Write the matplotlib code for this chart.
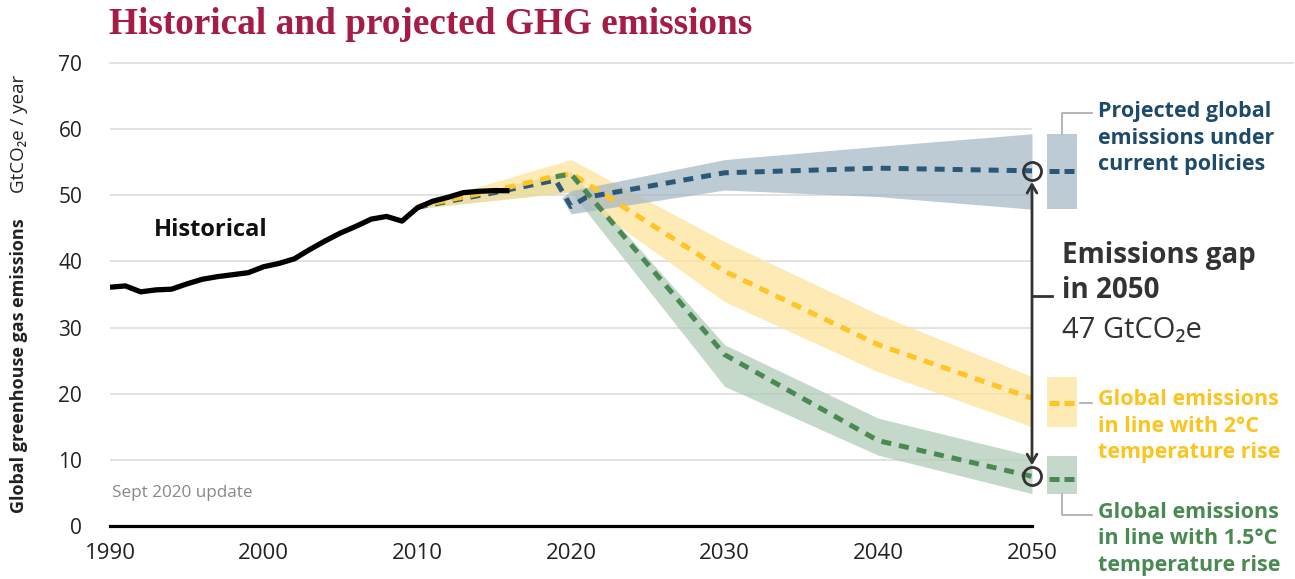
import numpy as np
import matplotlib
matplotlib.use("Agg")
import matplotlib.pyplot as plt
from matplotlib.patches import Rectangle, FancyArrowPatch

W, H = 1295, 579

# Historical emissions (GtCO2e / year)
hist_years = list(range(1990, 2017))
hist_vals = [36.1, 36.3, 35.4, 35.7, 35.8, 36.6, 37.3, 37.7, 38.0, 38.3,
             39.2, 39.7, 40.4, 41.8, 43.1, 44.3, 45.3, 46.4, 46.8, 46.1,
             48.1, 49.1, 49.7, 50.4, 50.6, 50.7, 50.7]

# Current policies
cp_years = [2010, 2015, 2019, 2020, 2021, 2030, 2040, 2050]
cp_vals = [48.2, 50.4, 52.3, 48.3, 49.7, 53.4, 54.1, 53.7]
cp_band_years = [2019.4, 2020, 2030, 2040, 2050]
cp_lo = [49.6, 47.2, 50.8, 49.8, 47.9]
cp_hi = [49.6, 50.7, 55.4, 57.4, 59.3]

# 2°C pathway
t2_years = [2010, 2015, 2019, 2020, 2030, 2040, 2050]
t2_vals = [48.3, 50.7, 52.9, 53.3, 38.5, 27.4, 19.3]
t2_band_years = [2010, 2020, 2030, 2040, 2050]
t2_lo = [48.0, 50.5, 33.9, 23.3, 15.0]
t2_hi = [48.6, 55.4, 43.0, 32.0, 22.6]

# 1.5°C pathway
t15_years = [2019, 2020, 2030, 2040, 2050]
t15_vals = [52.8, 53.2, 25.9, 12.9, 7.5]
t15_band_years = [2010, 2020, 2030, 2040, 2050]
t15_lo = [48.0, 50.5, 21.1, 10.7, 4.9]
t15_hi = [48.4, 53.6, 27.4, 16.3, 10.6]

x_ticks = [1990, 2000, 2010, 2020, 2030, 2040, 2050]
y_ticks = [0, 10, 20, 30, 40, 50, 60, 70]

blue_line, blue_band, blue_text = "#2c5878", "#a2b5c4", "#1e4a6b"
yel_line, yel_band, yel_text = "#ffc425", "#fee295", "#fcc41f"
grn_line, grn_band, grn_text = "#4a8a52", "#accab2", "#4a8a52"
dark = "#333333"
conn = "#aaaaaa"

plt.rcParams["font.family"] = ["Open Sans", "DejaVu Sans"]

fig = plt.figure(figsize=(W / 100, H / 100), dpi=100)
ax = fig.add_axes([110 / W, 1 - 526 / H, (1032 - 110) / W, (526 - 63) / H])
ax.set_xlim(1990, 2050)
ax.set_ylim(0, 70)

for s in ax.spines.values():
    s.set_visible(False)
ax.spines["bottom"].set_visible(True)
ax.spines["bottom"].set_linewidth(2.3)
ax.spines["bottom"].set_color("black")
ax.spines["bottom"].set_zorder(6)

for y in y_ticks[1:-1]:
    ax.axhline(y, color="#dddddd", lw=1.2, zorder=0)
ax.plot([1990, 2067], [70, 70], color="#dddddd", lw=1.2, zorder=0, clip_on=False)

ax.set_xticks(x_ticks)
ax.set_yticks(y_ticks)
ax.tick_params(length=0)
ax.tick_params(axis="x", labelsize=16, pad=12, colors="#222222")
ax.tick_params(axis="y", labelsize=15, pad=20, colors="#222222")

# bands
ax.fill_between(t15_band_years, t15_lo, t15_hi, color=grn_band, alpha=0.7, lw=0, zorder=1)
ax.fill_between(t2_band_years, t2_lo, t2_hi, color=yel_band, alpha=0.7, lw=0, zorder=1)
ax.fill_between(cp_band_years, cp_lo, cp_hi, color=blue_band, alpha=0.7, lw=0, zorder=1)

dash = (2.0, 1.6)
ax.plot(cp_years, cp_vals, color=blue_line, lw=3.6, dashes=dash, dash_capstyle="butt", zorder=3)
ax.plot(t2_years, t2_vals, color=yel_line, lw=3.6, dashes=dash, dash_capstyle="butt", zorder=3)
ax.plot(t15_years, t15_vals, color=grn_line, lw=3.6, dashes=dash, dash_capstyle="butt", zorder=4)

ax.plot(hist_years, hist_vals, color="black", lw=3.8, solid_capstyle="butt", zorder=5)

# emissions gap arrow
top, bot = cp_vals[-1], t15_vals[-1]
arr = FancyArrowPatch((2050, bot), (2050, top), arrowstyle="<->,head_length=6,head_width=3.5",
                      color=dark, lw=2, shrinkA=8, shrinkB=8, zorder=7, clip_on=False)
ax.add_patch(arr)
ax.plot([2050, 2050], [top, bot], ls="none", marker="o", ms=13, mfc="none",
        mec=dark, mew=2, zorder=8, clip_on=False)
ax.plot([2050, 2051.3], [34.8, 34.8], color=dark, lw=2, zorder=7, clip_on=False)

# legend swatches
for lo, hi, mid, bc, lc in [(cp_lo[-1], cp_hi[-1], cp_vals[-1], blue_band, blue_line),
                            (t2_lo[-1], t2_hi[-1], t2_vals[-1] - 0.7, yel_band, yel_line),
                            (t15_lo[-1], t15_hi[-1], t15_vals[-1] - 0.4, grn_band, grn_line)]:
    ax.add_patch(Rectangle((2050.96, lo), 1.95, hi - lo, color=bc, alpha=0.7, lw=0,
                           clip_on=False, zorder=2))
    ax.plot([2051.12, 2052.8], [mid, mid], color=lc, lw=3.6, dashes=(2.0, 1.0),
            dash_capstyle="butt", clip_on=False, zorder=3)

# connectors
ax.plot([2051.94, 2051.94, 2053.9], [cp_hi[-1], 62.4, 62.4], color=conn, lw=1.2, clip_on=False)
ax.plot([2053.1, 2053.9], [18.6, 18.6], color=conn, lw=1.2, clip_on=False)
ax.plot([2051.94, 2051.94, 2053.9], [t15_lo[-1], 1.6, 1.6], color=conn, lw=1.2, clip_on=False)


def ftext(x, y, s, **kw):
    fig.text(x / W, 1 - y / H, s, **kw)


ftext(109, 24, "Historical and projected GHG emissions", family=["Liberation Serif"],
      weight="bold", size=26.8, color="#a51c44", va="center")
ftext(154, 230, "Historical", weight="bold", size=17, color="#111111", va="center")
ftext(112, 493, "Sept 2020 update", size=12.3, color="#888888", va="center")

ftext(19, 513, "Global greenhouse gas emissions", weight="bold", size=13, rotation=90,
      ha="center", va="bottom", color="#222222")
ftext(19, 134, "GtCO₂e / year", size=13.5, rotation=90, ha="center", va="center",
      color="#222222")

ftext(1062, 255, "Emissions gap", weight="bold", size=20, color=dark, va="center")
ftext(1062, 290, "in 2050", weight="bold", size=20, color=dark, va="center")
ftext(1062, 330, "47 GtCO₂e", size=21, color=dark, va="center")

ftext(1098, 138, "Projected global\nemissions under\ncurrent policies", weight="bold",
      size=15.5, color=blue_text, va="center", linespacing=1.32)
ftext(1098, 426, "Global emissions\nin line with 2°C\ntemperature rise", weight="bold",
      size=15.5, color=yel_text, va="center", linespacing=1.32)
ftext(1098, 539, "Global emissions\nin line with 1.5°C\ntemperature rise", weight="bold",
      size=15.5, color=grn_text, va="center", linespacing=1.32)

fig.savefig("out.png", dpi=100)
